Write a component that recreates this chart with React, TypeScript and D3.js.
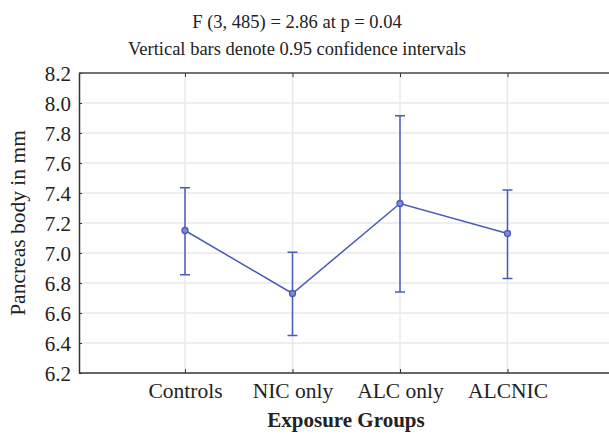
import { useRef, useEffect } from 'react'
import * as d3 from 'd3'

const groups = ['Controls', 'NIC only', 'ALC only', 'ALCNIC']
const means = [7.15, 6.73, 7.33, 7.13]
const upper = [7.435, 7.005, 7.915, 7.42]
const lower = [6.855, 6.45, 6.74, 6.83]
const yTicks = [6.2, 6.4, 6.6, 6.8, 7.0, 7.2, 7.4, 7.6, 7.8, 8.0, 8.2]
const titleLines = ['F (3, 485) = 2.86 at p = 0.04', 'Vertical bars denote 0.95 confidence intervals']

export default function App() {
	const ref = useRef<SVGSVGElement>(null)

	const width = 609
	const height = 435
	const margin = { top: 73, right: 0, bottom: 62, left: 79 }

	useEffect(() => {
		const svg = d3.select(ref.current)
		svg.selectAll('*').remove()

		const font = "'Liberation Serif', 'Times New Roman', serif"
		const blue = '#4a5ab8'
		const plotBottom = height - margin.bottom

		const x = d3.scaleLinear().domain([-1, 4]).range([margin.left - 1.5, 615])
		const y = d3.scaleLinear().domain([6.2, 8.2]).range([plotBottom, margin.top])

		// grid
		svg
			.append('g')
			.selectAll('line')
			.data(yTicks.slice(1, -1))
			.join('line')
			.attr('x1', margin.left)
			.attr('x2', width)
			.attr('y1', (d) => y(d))
			.attr('y2', (d) => y(d))
			.style('stroke', '#e8e8e8')
			.style('stroke-width', 1.5)
		svg
			.append('g')
			.selectAll('line')
			.data(groups)
			.join('line')
			.attr('x1', (d, i) => x(i))
			.attr('x2', (d, i) => x(i))
			.attr('y1', margin.top)
			.attr('y2', plotBottom)
			.style('stroke', '#e8e8e8')
			.style('stroke-width', 1.5)

		// left axis
		svg
			.append('g')
			.attr('transform', `translate(${margin.left},0)`)
			.call(
				d3
					.axisLeft(y)
					.tickValues(yTicks)
					.tickSize(-3)
					.tickSizeOuter(0)
					.tickFormat(d3.format('.1f'))
			)
			.call((g) => g.select('.domain').style('stroke', '#333').style('stroke-width', 1.5))
			.call((g) => g.selectAll('.tick line').style('stroke', '#333'))
			.call((g) =>
				g
					.selectAll('.tick text')
					.attr('x', -8)
					.attr('dy', '0.34em')
					.style('fill', '#222')
					.style('font-family', font)
					.style('font-size', '21px')
			)

		// bottom axis
		svg
			.append('g')
			.attr('transform', `translate(0,${plotBottom})`)
			.call(
				d3
					.axisBottom(x)
					.tickValues(d3.range(groups.length))
					.tickSize(-4)
					.tickSizeOuter(0)
					.tickFormat((d) => groups[d as number])
			)
			.call((g) => g.select('.domain').remove())
			.call((g) => g.selectAll('.tick line').style('stroke', '#333'))
			.call((g) =>
				g
					.selectAll('.tick text')
					.attr('y', 10)
					.attr('dy', '0.71em')
					.style('fill', '#222')
					.style('font-family', font)
					.style('font-size', '21.5px')
			)
		svg
			.append('line')
			.attr('x1', margin.left)
			.attr('x2', width)
			.attr('y1', plotBottom)
			.attr('y2', plotBottom)
			.style('stroke', '#333')
			.style('stroke-width', 1.5)

		// top axis
		svg
			.append('g')
			.attr('transform', `translate(0,${margin.top})`)
			.call(d3.axisTop(x).tickValues(d3.range(groups.length)).tickSize(-4).tickSizeOuter(0).tickFormat(() => ''))
			.call((g) => g.select('.domain').remove())
			.call((g) => g.selectAll('.tick line').style('stroke', '#333'))
		svg
			.append('line')
			.attr('x1', margin.left)
			.attr('x2', width)
			.attr('y1', margin.top)
			.attr('y2', margin.top)
			.style('stroke', '#444')
			.style('stroke-width', 1.5)

		// error bars
		const bars = svg.append('g').selectAll('g').data(groups).join('g')
		bars
			.append('line')
			.attr('x1', (d, i) => x(i))
			.attr('x2', (d, i) => x(i))
			.attr('y1', (d, i) => y(upper[i]))
			.attr('y2', (d, i) => y(lower[i]))
			.style('stroke', blue)
			.style('stroke-width', 1.5)
		bars
			.append('line')
			.attr('x1', (d, i) => x(i) - 5)
			.attr('x2', (d, i) => x(i) + 5)
			.attr('y1', (d, i) => y(upper[i]))
			.attr('y2', (d, i) => y(upper[i]))
			.style('stroke', blue)
			.style('stroke-width', 1.5)
		bars
			.append('line')
			.attr('x1', (d, i) => x(i) - 5)
			.attr('x2', (d, i) => x(i) + 5)
			.attr('y1', (d, i) => y(lower[i]))
			.attr('y2', (d, i) => y(lower[i]))
			.style('stroke', blue)
			.style('stroke-width', 1.5)

		// mean line
		const meanLine = d3
			.line<number>()
			.x((d, i) => x(i))
			.y((d) => y(d))
		svg
			.append('path')
			.datum(means)
			.attr('d', meanLine)
			.style('fill', 'none')
			.style('stroke', blue)
			.style('stroke-width', 1.5)
		svg
			.append('g')
			.selectAll('circle')
			.data(means)
			.join('circle')
			.attr('cx', (d, i) => x(i))
			.attr('cy', (d) => y(d))
			.attr('r', 3)
			.style('fill', '#7f8ad0')
			.style('stroke', blue)
			.style('stroke-width', 1.3)

		// titles
		svg
			.selectAll('text.title')
			.data(titleLines)
			.join('text')
			.attr('class', 'title')
			.attr('x', 297)
			.attr('y', (d, i) => 28 + i * 27)
			.attr('text-anchor', 'middle')
			.style('font-size', '18.5px')
			.style('font-family', font)
			.style('fill', '#222')
			.text((d) => d)

		svg
			.append('text')
			.attr('transform', `translate(25,${(margin.top + plotBottom) / 2}) rotate(-90)`)
			.attr('text-anchor', 'middle')
			.style('font-size', '21.5px')
			.style('font-family', font)
			.style('fill', '#222')
			.text('Pancreas body in mm')

		svg
			.append('text')
			.attr('x', 346)
			.attr('y', 427)
			.attr('text-anchor', 'middle')
			.style('font-size', '21px')
			.style('font-weight', 'bold')
			.style('font-family', font)
			.style('fill', '#222')
			.text('Exposure Groups')
	}, [])

	return (
		<svg
			ref={ref}
			width={width}
			height={height}
			style={{ position: 'fixed', left: 0, top: 0, background: '#fff' }}
		></svg>
	)
}
